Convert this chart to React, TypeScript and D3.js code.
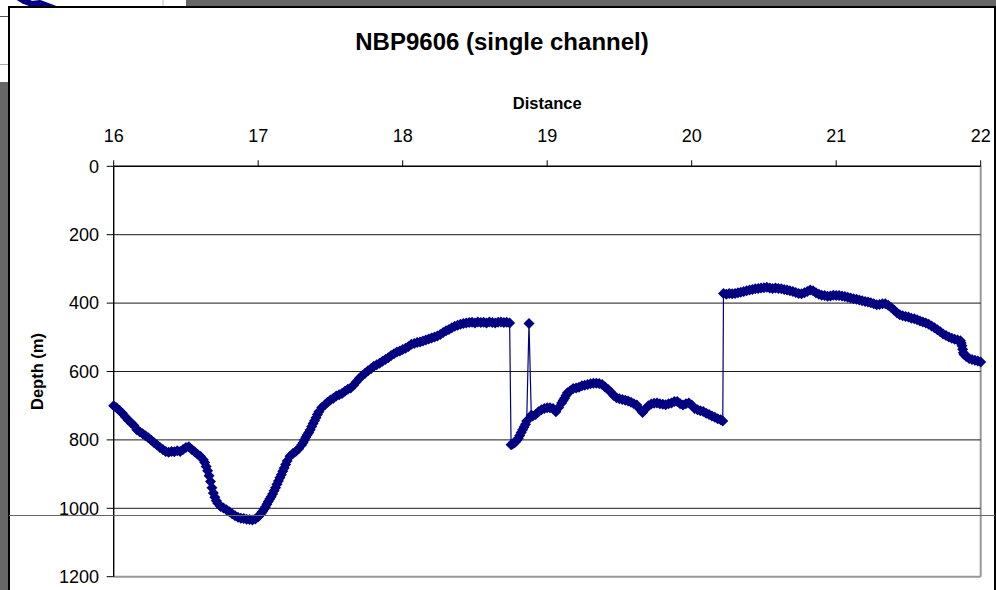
import React from "react";
import * as d3 from "d3";

// Survey line NBP9606, single-channel seismic: seafloor depth along track.
// Soundings are stored per leg; all legs are merged and sorted by distance.

// Leg 1: 16.00 – 18.74
const distanceLeg1 = [
  16.0, 16.02, 16.04, 16.06, 16.08, 16.1, 16.12, 16.14, 16.16, 16.18,
  16.2, 16.22, 16.24, 16.26, 16.28, 16.3, 16.32, 16.34, 16.36, 16.38,
  16.4, 16.42, 16.44, 16.46, 16.48, 16.5, 16.52, 16.54, 16.56, 16.58,
  16.6, 16.62, 16.64, 16.66, 16.68, 16.7, 16.72, 16.74, 16.76, 16.78,
  16.8, 16.82, 16.84, 16.86, 16.88, 16.9, 16.92, 16.94, 16.96, 16.98,
  17.0, 17.02, 17.04, 17.06, 17.08, 17.1, 17.12, 17.14, 17.16, 17.18,
  17.2, 17.22, 17.24, 17.26, 17.28, 17.3, 17.32, 17.34, 17.36, 17.38,
  17.4, 17.42, 17.44, 17.46, 17.48, 17.5, 17.52, 17.54, 17.56, 17.58,
  17.6, 17.62, 17.64, 17.66, 17.68, 17.7, 17.72, 17.74, 17.76, 17.78,
  17.8, 17.82, 17.84, 17.86, 17.88, 17.9, 17.92, 17.94, 17.96, 17.98,
  18.0, 18.02, 18.04, 18.06, 18.08, 18.1, 18.12, 18.14, 18.16, 18.18,
  18.2, 18.22, 18.24, 18.26, 18.28, 18.3, 18.32, 18.34, 18.36, 18.38,
  18.4, 18.42, 18.44, 18.46, 18.48, 18.5, 18.52, 18.54, 18.56, 18.58,
  18.6, 18.62, 18.64, 18.66, 18.68, 18.7, 18.72, 18.74,
];
const depthLeg1 = [
  700, 706, 714, 722, 732, 742, 750, 758, 770, 776,
  782, 788, 794, 801, 808, 815, 822, 828, 834, 836,
  834, 835, 832, 834, 828, 822, 820, 828, 835, 842,
  848, 858, 878, 905, 940, 968, 985, 995, 999, 1004,
  1010, 1016, 1022, 1026, 1029, 1030, 1032, 1033, 1034, 1031,
  1025, 1015, 1003, 988, 973, 958, 940, 920, 902, 882,
  862, 848, 840, 834, 826, 815, 800, 785, 770, 752,
  735, 718, 705, 698, 690, 683, 678, 672, 668, 664,
  658, 652, 648, 640, 630, 620, 612, 605, 598, 592,
  585, 580, 576, 570, 565, 560, 553, 548, 543, 540,
  536, 532, 527, 520, 518, 515, 514, 511, 508, 505,
  502, 499, 496, 492, 486, 481, 477, 472, 468, 465,
  462, 460, 458, 457, 456, 458, 455, 457, 456, 458,
  455, 457, 458, 456, 455, 457, 456, 458,
];

// Leg 2: 18.75 – 20.215 (includes the single shallow return near 18.87)
const distanceLeg2 = [
  18.75, 18.76, 18.78, 18.8, 18.82, 18.84, 18.858, 18.874, 18.89, 18.9,
  18.92, 18.94, 18.96, 18.98, 19.0, 19.02, 19.04, 19.06, 19.08, 19.1,
  19.12, 19.14, 19.16, 19.18, 19.2, 19.22, 19.24, 19.26, 19.28, 19.3,
  19.32, 19.34, 19.36, 19.38, 19.4, 19.42, 19.44, 19.46, 19.48, 19.5,
  19.52, 19.54, 19.56, 19.58, 19.6, 19.62, 19.64, 19.66, 19.68, 19.7,
  19.72, 19.74, 19.76, 19.78, 19.8, 19.82, 19.84, 19.86, 19.88, 19.9,
  19.92, 19.94, 19.96, 19.98, 20.0, 20.02, 20.04, 20.06, 20.08, 20.1,
  20.12, 20.14, 20.16, 20.18, 20.2, 20.215,
];
const depthLeg2 = [
  814, 812, 806, 795, 778, 762, 745, 460, 728, 730,
  726, 718, 712, 708, 706, 706, 708, 718, 705, 692,
  678, 662, 656, 650, 648, 646, 642, 640, 638, 636,
  634, 634, 635, 638, 645, 652, 660, 670, 677, 680,
  682, 684, 686, 690, 694, 698, 710, 720, 710, 700,
  695, 693, 692, 694, 696, 697, 694, 692, 688, 688,
  694, 698, 694, 692, 698, 708, 712, 715, 717, 722,
  726, 730, 734, 738, 741, 745,
];

// Leg 3: 20.22 – 22.00
const distanceLeg3 = [
  20.22, 20.24, 20.26, 20.28, 20.3, 20.32, 20.34, 20.36, 20.38, 20.4,
  20.42, 20.44, 20.46, 20.48, 20.5, 20.52, 20.54, 20.56, 20.58, 20.6,
  20.62, 20.64, 20.66, 20.68, 20.7, 20.72, 20.74, 20.76, 20.78, 20.8,
  20.82, 20.84, 20.86, 20.88, 20.9, 20.92, 20.94, 20.96, 20.98, 21.0,
  21.02, 21.04, 21.06, 21.08, 21.1, 21.12, 21.14, 21.16, 21.18, 21.2,
  21.22, 21.24, 21.26, 21.28, 21.3, 21.32, 21.34, 21.36, 21.38, 21.4,
  21.42, 21.44, 21.46, 21.48, 21.5, 21.52, 21.54, 21.56, 21.58, 21.6,
  21.62, 21.64, 21.66, 21.68, 21.7, 21.72, 21.74, 21.76, 21.78, 21.8,
  21.82, 21.84, 21.86, 21.87, 21.88, 21.9, 21.92, 21.94, 21.96, 21.98,
  22.0,
];
const depthLeg3 = [
  372, 374, 372, 373, 372, 370, 368, 366, 364, 362,
  360, 358, 357, 356, 355, 354, 356, 357, 356, 357,
  358, 360, 362, 364, 366, 369, 372, 373, 370, 366,
  362, 364, 370, 374, 377, 378, 380, 379, 377, 378,
  378, 379, 381, 383, 385, 387, 389, 391, 393, 395,
  397, 399, 402, 405, 404, 402, 402, 406, 413, 420,
  428, 434, 437, 439, 441, 444, 446, 449, 452, 455,
  458, 462, 467, 472, 478, 484, 490, 495, 499, 503,
  506, 508, 510, 525, 545, 556, 562, 565, 567, 569,
  572,
];

// Extra soundings on the steep slopes, where pings are closer in depth change
const distanceSlopes = [
  16.63, 16.65, 16.67, 16.69, 16.71,
  17.01, 17.03, 17.05, 17.07, 17.09, 17.11, 17.13, 17.15, 17.17, 17.19,
  17.31, 17.33, 17.35, 17.37, 17.39, 17.41,
  18.77, 18.79, 18.81, 18.83, 18.85,
  19.11, 19.13,
  21.865, 21.875, 21.885,
];
const depthSlopes = [
  866, 890, 922, 955, 978,
  1020, 1009, 996, 980, 966, 949, 930, 911, 892, 872,
  808, 792, 778, 761, 744, 726,
  809, 801, 787, 770, 754,
  685, 670,
  517, 535, 550,
];

const distance = [...distanceLeg1, ...distanceLeg2, ...distanceLeg3, ...distanceSlopes];
const depth = [...depthLeg1, ...depthLeg2, ...depthLeg3, ...depthSlopes];

const xTicks = [16, 17, 18, 19, 20, 21, 22];
const yTicks = [0, 200, 400, 600, 800, 1000, 1200];

const W = 996;
const H = 590;
const NAVY = "#000080";
const FONT = "'Liberation Sans', Arial, Helvetica, sans-serif";

export default function App() {
  const x = d3.scaleLinear().domain([16, 22]).range([113.7, 980.7]);
  const y = d3.scaleLinear().domain([0, 1200]).range([166.3, 576.7]);

  const n = Math.min(distance.length, depth.length);
  const points = d3.sort(
    d3.range(n).map((i) => [distance[i], depth[i]] as [number, number]),
    (p) => p[0]
  );
  const line = d3
    .line<[number, number]>()
    .x((p) => x(p[0]))
    .y((p) => y(p[1]));

  const r = 5.5;
  const diamond = `M0,${-r}L${r},0L0,${r}L${-r},0Z`;

  const [x0, x1] = x.range();
  const [y0, y1] = y.range();

  return (
    <svg
      width={W}
      height={H}
      style={{ position: "absolute", left: 0, top: 0, display: "block" }}
      fontFamily={FONT}
    >
      {/* desktop behind the chart window */}
      <rect x={0} y={0} width={W} height={H} fill="#666666" />
      <rect x={0} y={0} width={186} height={8} fill="#ffffff" />
      <rect x={0} y={0} width={10} height={82} fill="#ffffff" />
      <line x1={163} x2={163} y1={0} y2={8} stroke="#bbbbbb" />
      <line x1={0} x2={10} y1={16.5} y2={16.5} stroke="#555555" />
      <line x1={0} x2={10} y1={64.5} y2={64.5} stroke="#aaaaaa" />
      <path
        d="M16,-4 L24,1 L32,4 L40,3 L48,6 L56,9"
        fill="none"
        stroke={NAVY}
        strokeWidth={6}
        strokeLinejoin="round"
      />

      {/* chart window */}
      <rect x={9} y={7} width={986} height={H} fill="#ffffff" stroke="#000000" strokeWidth={2} />

      {/* titles */}
      <text x={502} y={50} textAnchor="middle" fontSize={24} fontWeight="bold">
        NBP9606 (single channel)
      </text>
      <text x={(x0 + x1) / 2} y={109} textAnchor="middle" fontSize={16.5} fontWeight="bold">
        Distance
      </text>
      <text
        transform={`translate(43,${(y0 + y1) / 2}) rotate(-90)`}
        textAnchor="middle"
        fontSize={16.5}
        fontWeight="bold"
      >
        Depth (m)
      </text>

      {/* plot frame and gridlines */}
      <line x1={x1} x2={x1} y1={y0} y2={y1} stroke="#999999" strokeWidth={2} />
      <line x1={x0} x2={x1} y1={y1} y2={y1} stroke="#999999" strokeWidth={2} />
      {yTicks.slice(1, -1).map((t) => (
        <line key={t} x1={x0} x2={x1} y1={y(t)} y2={y(t)} stroke="#1a1a1a" strokeWidth={1} />
      ))}

      {/* y axis */}
      <line x1={x0} x2={x0} y1={y0} y2={y1} stroke="#000000" strokeWidth={1.4} />
      {yTicks.map((t) => (
        <g key={t}>
          <line x1={x0 - 7} x2={x0} y1={y(t)} y2={y(t)} stroke="#000000" />
          <text x={99} y={y(t)} dy="0.35em" textAnchor="end" fontSize={18}>
            {t}
          </text>
        </g>
      ))}

      {/* x axis along the top */}
      <line x1={x0} x2={x1} y1={y0} y2={y0} stroke="#000000" strokeWidth={1.4} />
      {xTicks.map((t) => (
        <g key={t}>
          <line x1={x(t)} x2={x(t)} y1={y0 - 6} y2={y0} stroke="#000000" />
          <text x={x(t)} y={142} textAnchor="middle" fontSize={18}>
            {t}
          </text>
        </g>
      ))}

      {/* depth profile */}
      <path d={line(points) ?? ""} fill="none" stroke={NAVY} strokeWidth={1.2} />
      {points.map((p, i) => (
        <path key={i} d={diamond} transform={`translate(${x(p[0])},${y(p[1])})`} fill={NAVY} />
      ))}

      {/* spreadsheet row line crossing the window */}
      <line x1={9} x2={995} y1={515.5} y2={515.5} stroke="#666666" strokeWidth={1} />
    </svg>
  );
}
